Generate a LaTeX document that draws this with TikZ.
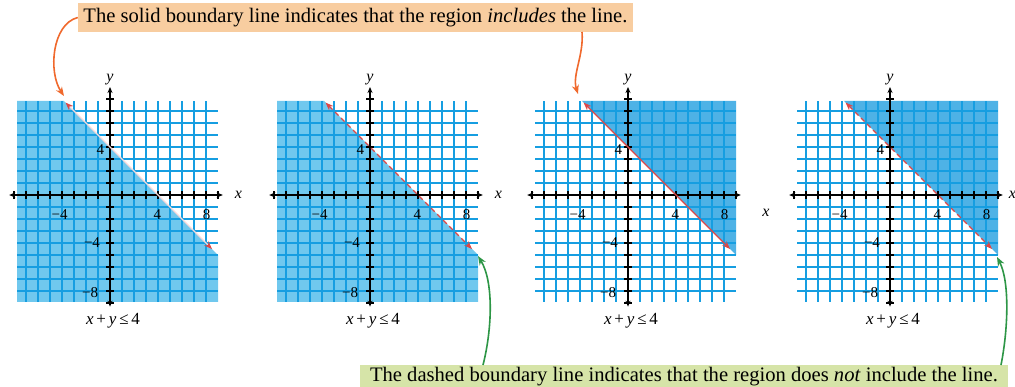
\documentclass[tikz,border=0pt]{standalone}
\usepackage{fontspec}
\setmainfont{Liberation Serif}
\usetikzlibrary{arrows.meta}
\definecolor{fillA}{RGB}{112,200,238}
\definecolor{fillB}{RGB}{78,178,230}
\definecolor{gridc}{RGB}{22,158,225}
\definecolor{redl}{RGB}{222,70,70}
\definecolor{orangec}{RGB}{240,105,45}
\definecolor{greenc}{RGB}{45,150,70}
\definecolor{tanbox}{RGB}{248,205,160}
\definecolor{greenbox}{RGB}{214,228,168}
\tikzset{
  gridline/.style={gridc,line width=1.7pt},
  axisline/.style={black,line width=1.4pt,{Stealth[length=6pt,width=5pt]}-{Stealth[length=6pt,width=5pt]}},
  tickline/.style={black,line width=1.6pt},
  ticklab/.style={font=\fontsize{15}{15}\selectfont,inner sep=0pt},
  axlab/.style={font=\fontsize{16}{16}\selectfont\itshape,inner sep=0pt},
  eqlab/.style={font=\fontsize{17}{17}\selectfont,inner sep=0pt},
  redtips/.style={{Stealth[redl,length=8pt,width=6pt]}-{Stealth[redl,length=8pt,width=6pt]}},
  faintline/.style={redtips,white!80!redl,line width=1.2pt},
  solidred/.style={redtips,redl,line width=1.4pt},
  dashedred/.style={redtips,redl,line width=1.4pt,dash pattern=on 5pt off 3.5pt},
  oarrow/.style={orangec,line width=1.6pt,-{Stealth[length=9pt,width=7pt]}},
  garrow/.style={greenc,line width=1.6pt,-{Stealth[length=9pt,width=7pt]}},
  topbox/.style={fill=tanbox,minimum width=555pt,minimum height=29pt,inner sep=0pt,font=\fontsize{20.6}{20.6}\selectfont},
  botbox/.style={fill=greenbox,minimum width=648pt,minimum height=24pt,inner sep=0pt,font=\fontsize{20.6}{20.6}\selectfont},
}
% #1 origin x, #2 prefix, #3 shading, #4 line style, #5 position of x label
\newcommand\panel[5]{%
  \begin{scope}[shift={(#1,195)},x=12pt,y=12pt]
    #3
    \foreach \i in {-7,...,8} \draw[gridline] (\i,-8.9) -- (\i,7.85);
    \foreach \j in {-8,...,7} \draw[gridline] (-7.75,\j) -- (9,\j);
    \draw[axisline] (-8.4,0) -- (9.4,0);
    \draw[axisline] (0,-9.3) -- (0,9.0);
    \foreach \i in {-8,...,9} \draw[tickline] (\i,-0.33) -- (\i,0.33);
    \foreach \j in {-9,...,8} \draw[tickline] (-0.33,\j) -- (0.33,\j);
    \node[ticklab] (#2xa) at (-4.2,-1.65) {−4};
    \node[ticklab] (#2xb) at (3.95,-1.65) {4};
    \node[ticklab] (#2xc) at (8.05,-1.65) {8};
    \node[ticklab] (#2ya) at (-0.8,3.75) {4};
    \node[ticklab] (#2yb) at (-1.5,-4) {−4};
    \node[ticklab] (#2yc) at (-1.65,-8.1) {−8};
    \node[axlab] (#2x) at #5 {x};
    \node[axlab] (#2y) at (0,9.6) {y};
    \node[eqlab] (#2eq) at (0.25,-10.5) {\textit{x}\,+\,\textit{y}\,≤\,4};
    \coordinate (#2p) at (-3.7,7.7);
    \coordinate (#2q) at (8.5,-4.5);
    \draw[#4] (#2p) -- (#2q);
  \end{scope}}
\begin{document}
\begin{tikzpicture}[x=1pt,y=-1pt]
  \useasboundingbox (0,0) rectangle (1015,386);
  \fill[white] (0,0) rectangle (1015,386);
  \panel{110}{a}{\fill[fillA] (-7.75,7.85) -- (-3.85,7.85) -- (9,-5) -- (9,-8.9) -- (-7.75,-8.9) -- cycle;}{faintline}{(10.7,0)}
  \panel{370}{b}{\fill[fillA] (-7.75,7.85) -- (-3.85,7.85) -- (9,-5) -- (9,-8.9) -- (-7.75,-8.9) -- cycle;}{dashedred}{(10.7,0)}
  \panel{628}{c}{\fill[fillB] (-3.85,7.85) -- (9,7.85) -- (9,-5) -- cycle;}{solidred}{(11.5,-1.5)}
  \panel{890}{d}{\fill[fillB] (-3.85,7.85) -- (9,7.85) -- (9,-5) -- cycle;}{dashedred}{(10.2,0)}
  % callouts
  \node[topbox] (top) at (355.5,17.5) {The solid boundary line indicates that the region \textit{includes} the line.};
  \node[botbox] (bot) at (684,377) {The dashed boundary line indicates that the region does \textit{not} include the line.};
  \coordinate (t1) at (64,96);
  \coordinate (s2) at (582,32);
  \coordinate (t3) at (578,94);
  \coordinate (g1) at (483,365);
  \coordinate (t2) at (478,256);
  \coordinate (g2) at (1001,365);
  \coordinate (t4) at (997,257);
  \draw[oarrow] (top.west) .. controls (52,24) and (48,72) .. (t1);
  \draw[oarrow] (s2) .. controls (584,55) and (572,75) .. (t3);
  \draw[garrow] (g1) .. controls (492,330) and (494,282) .. (t2);
  \draw[garrow] (g2) .. controls (1008,330) and (1010,282) .. (t4);
\end{tikzpicture}
\end{document}
